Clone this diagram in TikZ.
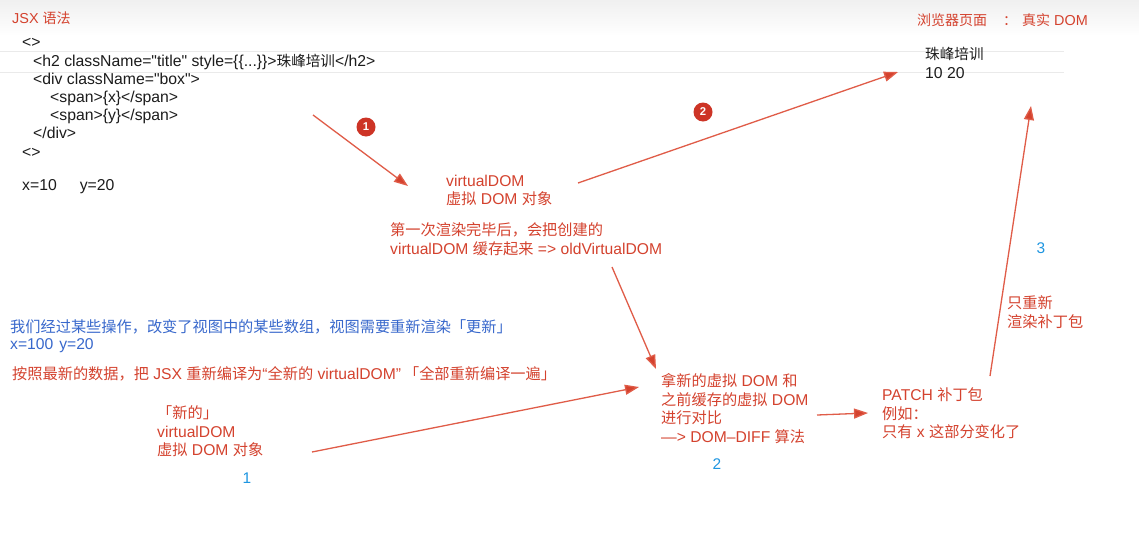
\documentclass[tikz,border=0pt]{standalone}
\usepackage{fontspec}
\setmainfont{Liberation Sans}[Scale=1.03]
\newfontfamily\codefont{Liberation Sans}[Scale=1.08]
\newfontfamily\cjk{Noto Sans CJK SC}
\newcommand\zh[1]{{\cjk #1}}
\usetikzlibrary{arrows.meta}
\definecolor{txtred}{RGB}{212,66,46}
\definecolor{linered}{RGB}{224,92,72}
\definecolor{badgered}{RGB}{205,52,38}
\definecolor{txtblue}{RGB}{56,104,204}
\definecolor{numblue}{RGB}{30,150,225}
\definecolor{codeblack}{RGB}{28,28,28}
\definecolor{rulegray}{RGB}{234,234,234}
\tikzset{
  base/.style={inner sep=0pt, anchor=north west, align=left, font=\fontsize{15.2}{18.5}\selectfont},
  redtxt/.style={base, text=txtred},
  bluetxt/.style={base, text=txtblue},
  codetxt/.style={base, text=codeblack},
  numtxt/.style={inner sep=0pt, text=numblue, font=\fontsize{15}{16}\selectfont},
  arr/.style={draw=linered, line width=1.3pt, -{Triangle[length=14pt,width=10pt,fill=txtred]}},
  badge/.style={circle, fill=badgered, text=white, inner sep=0pt, minimum size=19pt, font=\fontsize{11}{12}\selectfont\bfseries}
}
\begin{document}
\begin{tikzpicture}[x=1pt,y=-1pt]
\useasboundingbox (0,0) rectangle (1139,541);
\fill[white] (0,0) rectangle (1139,541);
\fill[top color=black!6, bottom color=white, draw=none] (0,0) rectangle (1139,36);
% faint horizontal rules
\draw[rulegray, line width=1pt] (0,51) -- (1064,51);
\draw[rulegray, line width=1pt] (0,72) -- (1064,72);

% titles
\node[redtxt, font=\fontsize{14}{16}\selectfont] (jsxtitle) at (12,12) {JSX \zh{语法}};
\node[redtxt, font=\fontsize{14}{16}\selectfont] (domtitle) at (917,13) {\zh{浏览器页面}\hspace{16pt}\zh{：}\hspace{5pt}\zh{真实} DOM};

% JSX code
\node[codetxt, font=\fontsize{14.6}{18.2}\selectfont\codefont] (jsx) at (22,38.5) {<>\\
\hspace*{11pt}<h2 className="title" style=\{\{...\}\}>\zh{珠峰培训}</h2>\\
\hspace*{11pt}<div className="box">\\
\hspace*{28pt}<span>\{x\}</span>\\
\hspace*{28pt}<span>\{y\}</span>\\
\hspace*{11pt}</div>\\
<>};
\node[codetxt, font=\fontsize{14.6}{18}\selectfont\codefont] (xy) at (22,179) {x=10\hspace{23pt}y=20};

% real DOM
\node[codetxt, font=\fontsize{14.6}{19}\selectfont\codefont] (realdom) at (925,46.5) {\zh{珠峰培训}\\10 20};

% virtual DOM
\node[redtxt] (vdom) at (446,174.5) {virtualDOM\\\zh{虚拟} DOM \zh{对象}};
\node[redtxt] (cache) at (390,222.5) {\zh{第一次渲染完毕后，会把创建的}\\virtualDOM \zh{缓存起来} => oldVirtualDOM};

% update texts
\node[bluetxt, font=\fontsize{15.2}{17}\selectfont] (update) at (10,319.5) {\zh{我们经过某些操作，改变了视图中的某些数组，视图需要重新渲染「更新」}\\x=100\hspace{6pt}y=20};
\node[redtxt] (recompile) at (12,366.5) {\zh{按照最新的数据，把} JSX \zh{重新编译为}“\zh{全新的} virtualDOM”\hspace{3pt}\zh{「全部重新编译一遍」}};

% new virtual DOM
\node[redtxt] (newvdom) at (157,405.5) {\zh{「新的」}\\virtualDOM\\\zh{虚拟} DOM \zh{对象}};

% diff
\node[redtxt] (diff) at (661,373.5) {\zh{拿新的虚拟} DOM \zh{和}\\\zh{之前缓存的虚拟} DOM\\\zh{进行对比}\\—> DOM–DIFF \zh{算法}};

% patch
\node[redtxt] (patch) at (882,387.5) {PATCH \zh{补丁包}\\\zh{例如：}\\\zh{只有} x \zh{这部分变化了}};
\node[redtxt] (rerender) at (1007,295.5) {\zh{只重新}\\\zh{渲染补丁包}};

% step numbers
\node[numtxt] (n1) at (247,478) {1};
\node[numtxt] (n2) at (717,464) {2};
\node[numtxt] (n3) at (1041,248) {3};

% badges
\node[badge] (b1) at (366,127) {1};
\node[badge] (b2) at (703,112) {2};

% connector end points
\coordinate (a1s) at (313,115);
\coordinate (a1e) at (408,186);
\coordinate (a2s) at (578,183);
\coordinate (a2e) at (898,72);
\coordinate (a3s) at (612,267);
\coordinate (a3e) at (656,369);
\coordinate (a4s) at (312,452);
\coordinate (a4e) at (639,387);
\coordinate (a5s) at (817,415);
\coordinate (a5e) at (868,413);
\coordinate (a6s) at (990,376);
\coordinate (a6e) at (1031,106);

\draw[arr] (a1s) -- (a1e);
\draw[arr] (a2s) -- (a2e);
\draw[arr] (a3s) -- (a3e);
\draw[arr] (a4s) -- (a4e);
\draw[arr] (a5s) -- (a5e);
\draw[arr] (a6s) -- (a6e);
\end{tikzpicture}
\end{document}
